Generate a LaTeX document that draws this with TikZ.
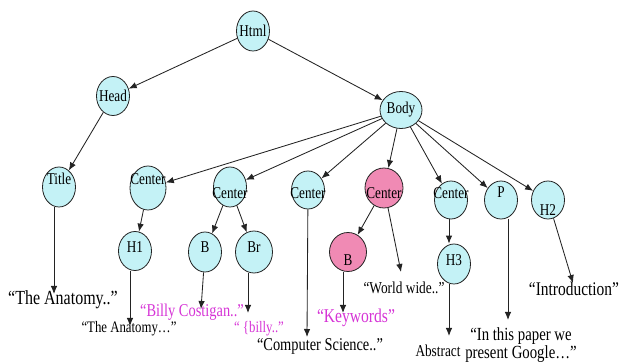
\documentclass[tikz,border=0pt]{standalone}
\usepackage{fontspec}
\setmainfont[FakeStretch=0.8]{Liberation Serif}
\usetikzlibrary{shapes.geometric,arrows.meta}
\definecolor{nodeblue}{RGB}{196,242,246}
\definecolor{nodepink}{RGB}{240,138,180}
\definecolor{magtext}{RGB}{214,52,214}
\definecolor{edgegray}{RGB}{35,35,35}
\tikzset{
  tnode/.style={ellipse, draw=edgegray, line width=0.8pt, fill=nodeblue,
                inner sep=0pt, minimum width=33pt, minimum height=40pt},
  pnode/.style={tnode, fill=nodepink},
  lbl/.style={font=\fontsize{16.5}{18}\selectfont, inner sep=0pt},
  txt/.style={inner sep=0pt, text=black},
  mag/.style={txt, text=magtext},
  arr/.style={draw=edgegray, line width=0.85pt, -{Latex[length=8pt,width=6.5pt]}}
}
\begin{document}
\begin{tikzpicture}[x=1pt,y=-1pt]
\useasboundingbox (0,0) rectangle (622,363);

% tree nodes
\node[tnode, label={[lbl]center:Html}] (html) at (253,31) {};
\node[tnode, minimum height=39pt, label={[lbl]center:Head}] (head) at (113,96) {};
\node[tnode, minimum width=42pt, minimum height=37pt, label={[lbl]center:Body}] (body) at (401,110) {};
\node[tnode, label={[lbl,yshift=8pt]center:Title}] (title) at (59,187) {};
\node[tnode, minimum width=36pt, minimum height=44pt, label={[lbl,yshift=9pt]center:Center}] (c1) at (148,188) {};
\node[tnode, label={[lbl,yshift=-6pt]center:Center}] (c2) at (230,187) {};
\node[tnode, minimum height=38pt, label={[lbl,yshift=-3pt]center:Center}] (c3) at (308,190) {};
\node[pnode, minimum width=38pt, label={[lbl,yshift=-5pt]center:Center}] (cp) at (384,188) {};
\node[tnode, minimum height=38pt, label={[lbl,yshift=7pt]center:Center}] (c4) at (451,200) {};
\node[tnode, minimum height=38pt, label={[lbl,yshift=8pt]center:P}] (p) at (501,200) {};
\node[tnode, minimum height=38pt, label={[lbl,yshift=-10pt]center:H2}] (h2) at (548,200) {};
\node[tnode, minimum height=39pt, label={[lbl,yshift=4pt]center:H1}] (h1) at (135,251) {};
\node[tnode, label={[lbl,yshift=5pt]center:B}] (b) at (205,252) {};
\node[tnode, minimum width=37pt, minimum height=42pt, label={[lbl,yshift=5pt]center:Br}] (br) at (254,252) {};
\node[pnode, minimum width=37pt, minimum height=39pt, label={[lbl,yshift=-8pt]center:B}] (bp) at (348,252) {};
\node[tnode, label={[lbl,yshift=4pt]center:H3}] (h3) at (454,264) {};

% text leaves
\node[txt, font=\fontsize{20}{22}\selectfont] (tanat) at (63,300) {“The Anatomy..”};
\node[txt, font=\fontsize{16}{18}\selectfont] (tanat2) at (129,329) {“The Anatomy…”};
\node[mag, font=\fontsize{18}{20}\selectfont] (tbilly) at (192,312) {“Billy Costigan..”};
\node[mag, font=\fontsize{16}{18}\selectfont] (tbilly2) at (259,329) {“ \{billy..”};
\node[txt, font=\fontsize{18}{20}\selectfont] (tcomp) at (320,346) {“Computer Science..”};
\node[mag, font=\fontsize{19.5}{21}\selectfont] (tkey) at (356,318) {“Keywords”};
\node[txt, font=\fontsize{16.7}{18}\selectfont] (tworld) at (404,288) {“World wide..”};
\node[txt, font=\fontsize{16.6}{18}\selectfont] (tabs) at (438,351) {Abstract};
\node[txt, font=\fontsize{18.5}{16}\selectfont, align=center] (tpaper) at (521,345) {“In this paper we\\present Google…”};
\node[txt, font=\fontsize{19.3}{21}\selectfont] (tintro) at (574,289) {“Introduction”};

% arrow tips above the text leaves
\coordinate (atitle) at (54,294);
\coordinate (ah1) at (130,326);
\coordinate (ab) at (201,309);
\coordinate (abr) at (248,313);
\coordinate (ac3) at (307,337);
\coordinate (acp) at (401,272);
\coordinate (abp) at (343,313);
\coordinate (ah3) at (449,336);
\coordinate (ap) at (508,320);
\coordinate (ah2) at (573,283);

% tree edges
\draw[arr] (html) -- (head);
\draw[arr] (html) -- (body);
\draw[arr] (head) -- (title);
\draw[arr] (body) -- (c1);
\draw[arr] (body) -- (c2);
\draw[arr] (body) -- (c3);
\draw[arr] (body) -- (cp);
\draw[arr] (body) -- (c4);
\draw[arr] (body) -- (p);
\draw[arr] (body) -- (h2);
\draw[arr] (c1) -- (h1);
\draw[arr] (c2) -- (b);
\draw[arr] (c2) -- (br);
\draw[arr] (cp) -- (bp);
\draw[arr] (c4.south -| ah3) -- (h3.north -| ah3);

% edges to the text leaves
\draw[arr] (title.south -| atitle) -- (atitle);
\draw[arr] (h1.south -| ah1) -- (ah1);
\draw[arr] (b) -- (ab);
\draw[arr] (br.south -| abr) -- (abr);
\draw[arr] (c3) -- (ac3);
\draw[arr] (cp) -- (acp);
\draw[arr] (bp.south -| abp) -- (abp);
\draw[arr] (h3.south -| ah3) -- (ah3);
\draw[arr] (p.south -| ap) -- (ap);
\draw[arr] (h2) -- (ah2);
\end{tikzpicture}
\end{document}
